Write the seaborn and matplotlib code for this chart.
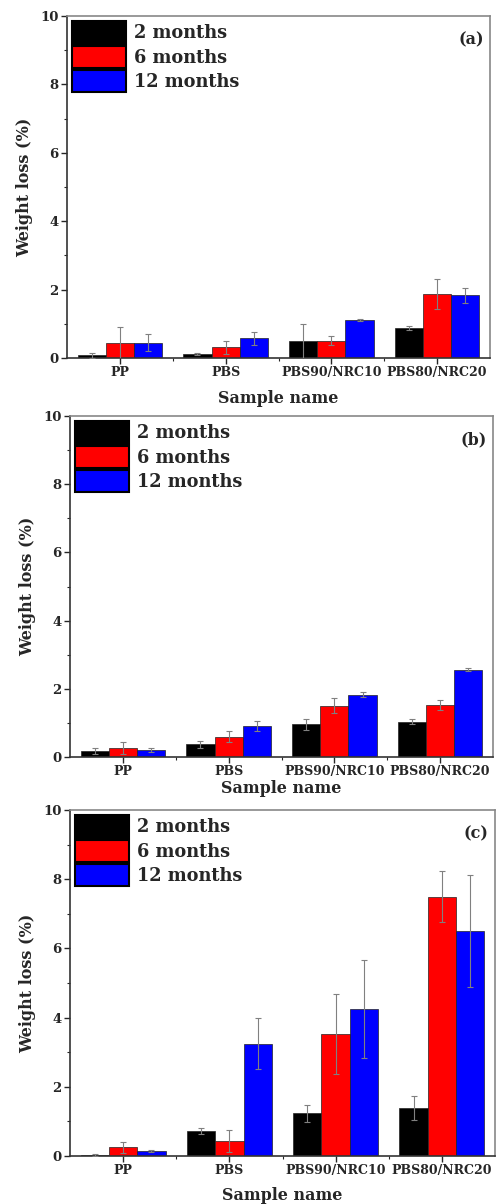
import numpy as np
import pandas as pd
import matplotlib
matplotlib.use("Agg")
import matplotlib.pyplot as plt
import seaborn as sns
from matplotlib.ticker import MultipleLocator, FixedLocator
from matplotlib.container import BarContainer

sns.set_theme(style="ticks")
plt.rcParams['font.family'] = ['DejaVu Serif']
plt.rcParams['font.weight'] = 'bold'

samples = ["PP", "PBS", "PBS90/NRC10", "PBS80/NRC20"]
periods = ["2 months", "6 months", "12 months"]
colors = ["#000000", "#ff0000", "#0000ff"]
panel_labels = ["(a)", "(b)", "(c)"]

# (a)
a_2m = [0.08, 0.12, 0.49, 0.88]
a_6m = [0.45, 0.32, 0.51, 1.87]
a_12m = [0.45, 0.58, 1.11, 1.83]
a_2m_err = [0.07, 0.03, 0.51, 0.07]
a_6m_err = [0.47, 0.19, 0.12, 0.43]
a_12m_err = [0.24, 0.19, 0.03, 0.23]

# (b)
b_2m = [0.18, 0.37, 0.96, 1.04]
b_6m = [0.26, 0.59, 1.51, 1.53]
b_12m = [0.21, 0.91, 1.83, 2.56]
b_2m_err = [0.09, 0.10, 0.16, 0.08]
b_6m_err = [0.18, 0.16, 0.22, 0.15]
b_12m_err = [0.06, 0.14, 0.07, 0.04]

# (c)
c_2m = [0.03, 0.72, 1.23, 1.38]
c_6m = [0.25, 0.44, 3.52, 7.50]
c_12m = [0.14, 3.25, 4.25, 6.51]
c_2m_err = [0.02, 0.08, 0.24, 0.34]
c_6m_err = [0.16, 0.31, 1.15, 0.74]
c_12m_err = [0.03, 0.73, 1.42, 1.62]

panels = [
    ([a_2m, a_6m, a_12m], [a_2m_err, a_6m_err, a_12m_err]),
    ([b_2m, b_6m, b_12m], [b_2m_err, b_6m_err, b_12m_err]),
    ([c_2m, c_6m, c_12m], [c_2m_err, c_6m_err, c_12m_err]),
]

W, H = 498, 1204
fig = plt.figure(figsize=(W / 100, H / 100), dpi=100)
# axes boxes in pixels: left, top, right, bottom
boxes = [(67, 16, 490, 358), (70, 416, 493, 757), (70, 810, 495, 1156)]
xlabel_pads = [8, 1, 7]

for (vals, errs), box, plab, xlp in zip(panels, boxes, panel_labels, xlabel_pads):
    l, t, r, b = box
    ax = fig.add_axes([l / W, 1 - b / H, (r - l) / W, (b - t) / H])
    rows = []
    for p, v, e in zip(periods, vals, errs):
        for s, vv, ee in zip(samples, v, e):
            rows.append({"Sample": s, "Period": p, "Value": vv, "Err": ee})
    df = pd.DataFrame(rows)
    sns.barplot(data=df, x="Sample", y="Value", hue="Period", order=samples,
                hue_order=periods, palette=colors, width=0.8, errorbar=None,
                saturation=1, edgecolor="#222222", linewidth=0.5, ax=ax,
                legend=True)
    bar_conts = [c for c in ax.containers if isinstance(c, BarContainer)]
    for p, cont in zip(periods, bar_conts):
        sub = df[df.Period == p].set_index("Sample").loc[samples]
        xs = [bar.get_x() + bar.get_width() / 2 for bar in cont]
        ax.errorbar(xs, sub.Value.values, yerr=sub.Err.values, fmt="none",
                    ecolor="#808080", elinewidth=0.8, capsize=2.5, capthick=0.8,
                    zorder=5)
    ax.set_xlim(-0.5, 3.5)
    ax.set_ylim(0, 10)
    ax.yaxis.set_major_locator(MultipleLocator(2))
    ax.yaxis.set_minor_locator(MultipleLocator(1))
    ax.xaxis.set_minor_locator(FixedLocator([0.5, 1.5, 2.5]))
    ax.tick_params(axis="both", which="major", length=4, width=1,
                   labelsize=9.5, direction="out", pad=2)
    ax.tick_params(axis="both", which="minor", length=2.5, width=0.8,
                   direction="out")
    ax.set_xticks(range(len(samples)))
    ax.set_xticklabels(samples, fontsize=9, fontweight="bold")
    for lab in ax.get_yticklabels():
        lab.set_fontweight("bold")
    for sp in ["left", "bottom"]:
        ax.spines[sp].set_color("#333333")
        ax.spines[sp].set_linewidth(1.2)
    for sp in ["top", "right"]:
        ax.spines[sp].set_color("#888888")
        ax.spines[sp].set_linewidth(1.2)
    ax.set_ylabel("Weight loss (%)", fontsize=11.5, fontweight="bold", labelpad=5)
    ax.set_xlabel("Sample name", fontsize=11.5, fontweight="bold", labelpad=xlp)
    ax.text(0.985, 0.955, plab, transform=ax.transAxes, ha="right", va="top",
            fontsize=11.5, fontweight="bold")
    leg = ax.legend(loc="upper left", frameon=False, fontsize=12.8,
                    handlelength=3.0, handleheight=1.55, labelspacing=0.12,
                    handletextpad=0.45, borderaxespad=0.2, borderpad=0.1)
    for txt in leg.get_texts():
        txt.set_fontweight("bold")
    for hnd in leg.legend_handles:
        hnd.set_edgecolor("black")
        hnd.set_linewidth(1.5)

fig.savefig("out.png", dpi=100)
